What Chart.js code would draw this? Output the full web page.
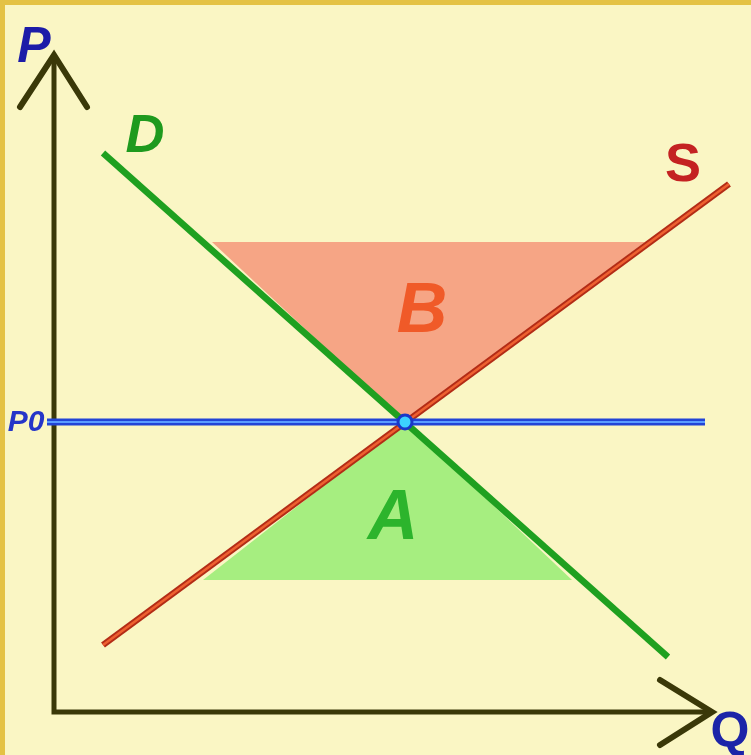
<!DOCTYPE html>
<html lang="en">
<head>
  <meta charset="utf-8">
  <title>Supply and demand</title>
  <style>
    body { margin: 0; background: #faf6c4; }
    canvas { display: block; }
  </style>
</head>

<body>
  <canvas id="myChart" width="751" height="755"></canvas>

  <script src="https://cdn.jsdelivr.net/npm/chart.js@4.4.0/dist/chart.umd.min.js"></script>
  <script>
    // quantity (x) and price (y), origin where the two axes meet
    var demand = [{x: 49, y: 559}, {x: 614, y: 55}];
    var supply = [{x: 49, y: 67}, {x: 675, y: 528}];
    var p0 = 290;
    var q0 = 351;
    var priceLine = [{x: -7, y: p0}, {x: 651, y: p0}];
    var equilibrium = [{x: q0, y: p0}];
    var areaB = [{x: 158, y: 470}, {x: 591, y: 470}, {x: q0, y: p0}];
    var areaA = [{x: 149, y: 132}, {x: 518, y: 132}, {x: q0, y: p0}];
    var axes = [{x: 0, y: 657}, {x: 0, y: 0}, {x: 658, y: 0}];
    var priceArrow = [{x: -34, y: 605}, {x: 0, y: 657}, {x: 33, y: 605}];
    var qtyArrow = [{x: 606, y: 32}, {x: 658, y: 0}, {x: 606, y: -33}];
    var letters = ['P', 'Q', 'D', 'S', 'B', 'A', 'P0'];

    var ctx = document.getElementById('myChart').getContext('2d');

    // pale paper with the gold strip on top and left
    var paper = {
      id: 'paper',
      beforeDraw: function(chart) {
        var c = chart.ctx;
        c.save();
        c.fillStyle = '#faf6c4';
        c.fillRect(0, 0, chart.width, chart.height);
        c.fillStyle = '#e4c245';
        c.fillRect(0, 0, chart.width, 5);
        c.fillRect(0, 0, 5, chart.height);
        c.restore();
      }
    };

    // letters placed in data units: [x, y, font size, style, colour]
    var letterStyle = [
      [-20, 650, 50, 'italic bold', '#1c1ca8'],
      [676, -35, 50, 'bold', '#1c24a8'],
      [91, 560, 54, 'italic bold', '#1e9a1e'],
      [629, 531, 54, 'bold', '#c42222'],
      [368, 380, 70, 'italic bold', '#f05a28'],
      [339, 173, 70, 'italic bold', '#2cb42c'],
      [-28, 281, 30, 'italic bold', '#2535c8']
    ];

    var letterPlugin = {
      id: 'letters',
      afterDatasetsDraw: function(chart) {
        var c = chart.ctx;
        var xs = chart.scales.x;
        var ys = chart.scales.y;
        c.save();
        c.textAlign = 'center';
        c.textBaseline = 'alphabetic';
        letters.forEach(function(txt, i) {
          var s = letterStyle[i];
          c.font = s[3] + ' ' + s[2] + 'px "Liberation Sans", Arial, sans-serif';
          c.fillStyle = s[4];
          c.fillText(txt, xs.getPixelForValue(s[0]), ys.getPixelForValue(s[1]));
        });
        c.restore();
      }
    };

    var chart = new Chart(ctx, {
      type: 'scatter',
      data: {
        datasets: [
          {
            data: equilibrium,
            order: 0,
            pointRadius: 7,
            pointBorderWidth: 3,
            pointBackgroundColor: '#3cd2ff',
            pointBorderColor: '#1a38c8'
          },
          {
            data: priceLine,
            order: 1,
            showLine: true,
            borderColor: '#5a9cff',
            borderWidth: 2,
            pointRadius: 0
          },
          {
            data: priceLine,
            order: 2,
            showLine: true,
            borderColor: '#2244d6',
            borderWidth: 7,
            pointRadius: 0
          },
          {
            data: priceArrow,
            order: 3,
            showLine: true,
            borderColor: '#3a3808',
            borderWidth: 6,
            borderCapStyle: 'round',
            borderJoinStyle: 'miter',
            pointRadius: 0
          },
          {
            data: qtyArrow,
            order: 3,
            showLine: true,
            borderColor: '#3a3808',
            borderWidth: 6,
            borderCapStyle: 'round',
            borderJoinStyle: 'miter',
            pointRadius: 0
          },
          {
            data: axes,
            order: 4,
            showLine: true,
            borderColor: '#3a3808',
            borderWidth: 5,
            borderJoinStyle: 'miter',
            pointRadius: 0
          },
          {
            data: demand,
            order: 5,
            showLine: true,
            borderColor: '#1fa020',
            borderWidth: 6.5,
            pointRadius: 0
          },
          {
            data: supply,
            order: 6,
            showLine: true,
            borderColor: '#ee6030',
            borderWidth: 2.5,
            pointRadius: 0
          },
          {
            data: supply,
            order: 7,
            showLine: true,
            borderColor: '#b32c16',
            borderWidth: 6.5,
            pointRadius: 0
          },
          {
            data: areaB,
            order: 8,
            showLine: true,
            fill: 'shape',
            backgroundColor: '#f6a585',
            borderWidth: 0,
            pointRadius: 0
          },
          {
            data: areaA,
            order: 8,
            showLine: true,
            fill: 'shape',
            backgroundColor: '#a6ee80',
            borderWidth: 0,
            pointRadius: 0
          }
        ]
      },
      options: {
        responsive: false,
        animation: false,
        events: [],
        layout: { padding: 0, autoPadding: false },
        plugins: {
          legend: { display: false },
          tooltip: { enabled: false }
        },
        scales: {
          x: { type: 'linear', display: false, min: -54, max: 697 },
          y: { type: 'linear', display: false, min: -43, max: 712 }
        }
      },
      plugins: [paper, letterPlugin]
    });
  </script>
</body>
</html>
